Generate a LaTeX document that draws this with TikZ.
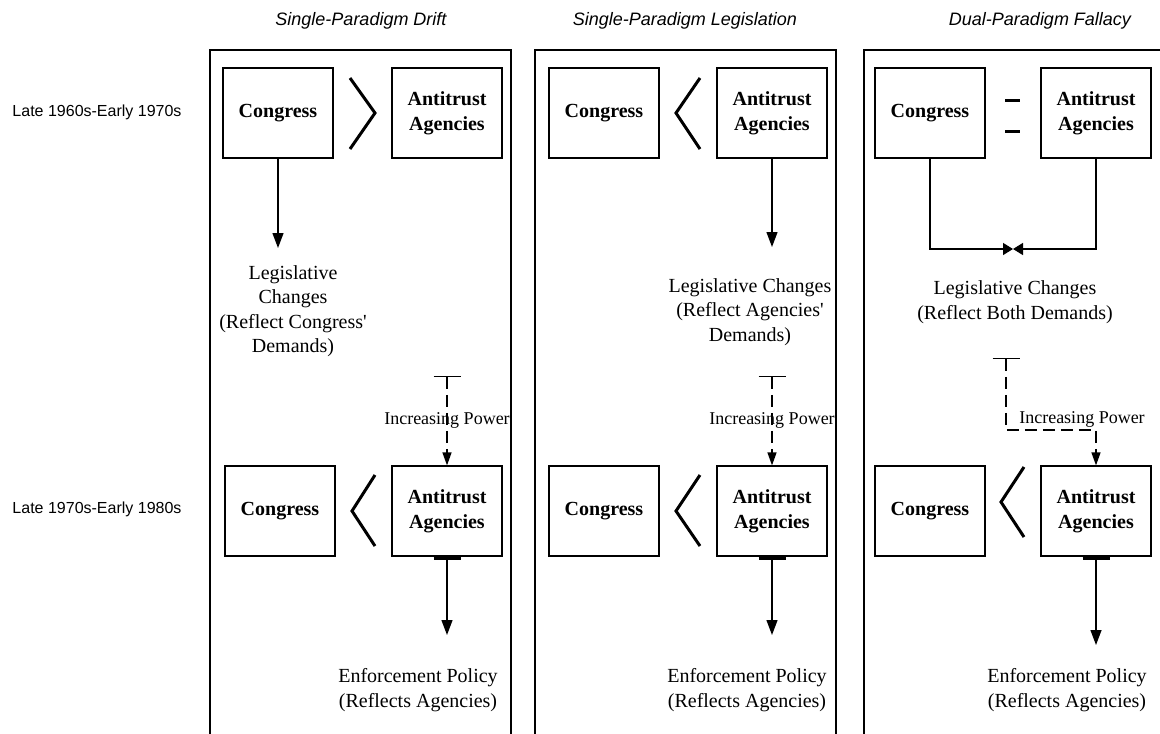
\documentclass[tikz,border=0pt]{standalone}
\usepackage{fontspec}
\newfontfamily\lserif{Liberation Serif}
\newfontfamily\lsans{Liberation Sans}
\usetikzlibrary{arrows.meta}
\tikzset{
  box/.style={draw, line width=1.2pt, minimum width=110pt, minimum height=90pt, inner sep=0pt, align=center,
    font=\lserif\bfseries\fontsize{20}{25}\selectfont},
  txt/.style={align=center, inner sep=0pt, font=\lserif\fontsize{20}{24.5}\selectfont},
  pwr/.style={inner sep=0pt, font=\lserif\fontsize{18}{22}\selectfont},
  ttl/.style={inner sep=0pt, font=\lsans\itshape\fontsize{18}{22}\selectfont},
  era/.style={inner sep=0pt, font=\lsans\fontsize{16}{19}\selectfont},
  panel/.style={draw, line width=1.3pt},
  chev/.style={line width=3pt},
  arr/.style={line width=1.3pt, -{Triangle[length=15pt,width=11pt]}},
  darr/.style={line width=1.3pt, dash pattern=on 12pt off 6pt, {Bar[width=27pt]}-{Triangle[length=13pt,width=9pt]}},
  barr/.style={line width=1.3pt, {Bar[width=27pt,line width=3pt]}-{Triangle[length=15pt,width=11pt]}},
  btip/.style={line width=1.3pt, -{Triangle[length=10pt,width=12pt]}},
}
\begin{document}
\begin{tikzpicture}[x=1pt,y=-1pt]
\clip (0,0) rectangle (1160,734);
\fill[white] (0,0) rectangle (1160,734);

% titles and eras
\node[ttl] (t1) at (361,21) {Single-Paradigm Drift};
\node[ttl] (t2) at (685,21) {Single-Paradigm Legislation};
\node[ttl] (t3) at (1040,21) {Dual-Paradigm Fallacy};
\node[era] (e1) at (97,112) {Late 1960s-Early 1970s};
\node[era] (e2) at (97,509) {Late 1970s-Early 1980s};

% ---------- Panel 1 ----------
\node[box] (c1a) at (278,113) {Congress};
\node[box] (a1a) at (447,113) {Antitrust\\Agencies};
\draw[chev] (350,78) -- (375,113) -- (350,149);
\coordinate (l1t) at (278,248);
\draw[arr] (c1a.south) -- (l1t);
\node[txt] (leg1) at (293,311) {Legislative\\Changes\\(Reflect Congress'\\Demands)};
\node[box] (c1b) at (280,511) {Congress};
\node[box] (a1b) at (447,511) {Antitrust\\Agencies};
\draw[chev] (375,475) -- (352,511) -- (375,546);
\coordinate (p1s) at (447,376);
\draw[darr] (p1s) -- (a1b.north) node[pwr, midway] (ip1) {Increasing Power};
\coordinate (e1t) at (447,635);
\draw[barr] (a1b.south) -- (e1t);
\node[txt] (enf1) at (418,690) {Enforcement Policy\\(Reflects Agencies)};

% ---------- Panel 2 ----------
\node[box] (c2a) at (604,113) {Congress};
\node[box] (a2a) at (772,113) {Antitrust\\Agencies};
\draw[chev] (700,78) -- (676,113) -- (700,149);
\coordinate (l2t) at (772,247);
\draw[arr] (a2a.south) -- (l2t);
\node[txt] (leg2) at (750,312) {Legislative Changes\\(Reflect Agencies'\\Demands)};
\node[box] (c2b) at (604,511) {Congress};
\node[box] (a2b) at (772,511) {Antitrust\\Agencies};
\draw[chev] (700,475) -- (676,511) -- (700,546);
\coordinate (p2s) at (772,376);
\draw[darr] (p2s) -- (a2b.north) node[pwr, midway] (ip2) {Increasing Power};
\coordinate (e2t) at (772,635);
\draw[barr] (a2b.south) -- (e2t);
\node[txt] (enf2) at (747,690) {Enforcement Policy\\(Reflects Agencies)};

% ---------- Panel 3 ----------
\node[box] (c3a) at (930,113) {Congress};
\node[box] (a3a) at (1096,113) {Antitrust\\Agencies};
\draw[chev] (1005,100) -- (1020,100);
\draw[chev] (1005,131) -- (1020,131);
\coordinate (m3) at (1013,249);
\draw[btip] (c3a.south) |- (m3);
\draw[btip] (a3a.south) |- (m3);
\node[txt] (leg3) at (1015,302) {Legislative Changes\\(Reflect Both Demands)};
\node[box] (c3b) at (930,511) {Congress};
\node[box] (a3b) at (1096,511) {Antitrust\\Agencies};
\draw[chev] (1024,467) -- (1001,502) -- (1024,537);
\coordinate (p3s) at (1006,358);
\coordinate (p3c) at (1006,430);
\draw[darr] (p3s) -- (p3c) -| (a3b.north);
\node[pwr] (ip3) at (1082,419) {Increasing Power};
\coordinate (e3t) at (1096,645);
\draw[barr] (a3b.south) -- (e3t);
\node[txt] (enf3) at (1067,690) {Enforcement Policy\\(Reflects Agencies)};

% panels
\draw[panel] (210,50) rectangle (511,760);
\draw[panel] (535,50) rectangle (836,760);
\draw[panel] (864,50) rectangle (1190,760);
\end{tikzpicture}
\end{document}
